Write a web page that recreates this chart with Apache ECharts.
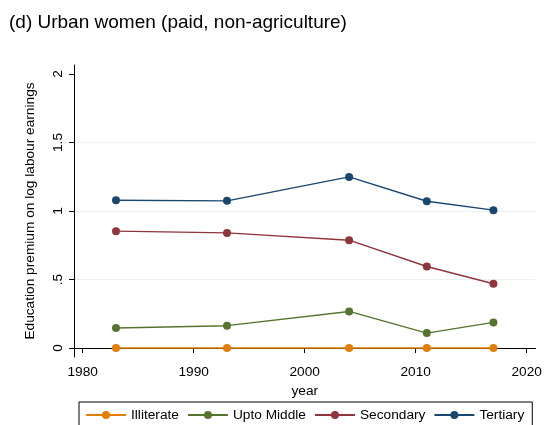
<!DOCTYPE html>
<html>
<head>
<meta charset="utf-8">
<script src="https://cdn.jsdelivr.net/npm/echarts@6/dist/echarts.min.js"></script>
<style>
  html, body { margin: 0; padding: 0; background: #fff; }
  #chart { width: 545px; height: 425px; }
</style>
</head>
<body>
<div id="chart"></div>
<script>
// Survey years
const years = [1983, 1993, 2004, 2011, 2017];

// Education premium on log labour earnings, by education level
const illiterate  = [0, 0, 0, 0, 0];
const uptoMiddle  = [0.146, 0.163, 0.267, 0.109, 0.187];
const secondary   = [0.853, 0.840, 0.787, 0.595, 0.469];
const tertiary    = [1.079, 1.074, 1.249, 1.071, 1.006];

// Axis tick labels
const xTicks = [1980, 1990, 2000, 2010, 2020];
const yTicks = [0, 0.5, 1, 1.5, 2];
const yGrid  = [0, 0.5, 1, 1.5];

const seriesDefs = [
  { name: 'Illiterate',   values: illiterate, color: '#e37e00' },
  { name: 'Upto Middle',  values: uptoMiddle, color: '#55752f' },
  { name: 'Secondary',    values: secondary,  color: '#90353b' },
  { name: 'Tertiary',     values: tertiary,   color: '#1a476f' }
];

const FONT = 'Liberation Sans, Arial, Helvetica, sans-serif';
const FS = 13.7;

function fmtY(v) {
  if (v === 0) return '0';
  let s = String(v);
  if (s.startsWith('0.')) s = s.slice(1);
  return s;
}

const chart = echarts.init(document.getElementById('chart'), null, { renderer: 'canvas' });

chart.setOption({
  animation: false,
  backgroundColor: '#ffffff',
  textStyle: { fontFamily: FONT, color: '#000' },
  title: {
    text: '(d) Urban women (paid, non-agriculture)',
    left: 4,
    top: 8,
    textStyle: { fontFamily: FONT, fontSize: 19, fontWeight: 'normal', color: '#000' }
  },
  legend: {
    data: seriesDefs.map(s => s.name),
    left: 79,
    top: 402,
    orient: 'horizontal',
    itemWidth: 40,
    itemHeight: 10,
    itemGap: 8,
    padding: [6, 8, 6, 6],
    borderColor: '#000',
    borderWidth: 1,
    textStyle: { fontFamily: FONT, fontSize: FS, color: '#000' }
  },
  grid: {
    left: 74,
    right: 9.5,
    top: 65,
    bottom: 68,
    containLabel: false
  },
  xAxis: {
    type: 'value',
    min: 1979.216,
    max: 2020.79,
    name: 'year',
    nameLocation: 'middle',
    nameGap: 20,
    nameTextStyle: { fontFamily: FONT, fontSize: FS, color: '#000', verticalAlign: 'top' },
    axisLine: { show: true, lineStyle: { color: '#000', width: 1 } },
    axisTick: { show: true, length: 5, customValues: xTicks, lineStyle: { color: '#000' } },
    axisLabel: {
      customValues: xTicks,
      margin: 8,
      fontFamily: FONT,
      fontSize: FS,
      color: '#000',
      formatter: v => String(v)
    },
    splitLine: { show: false }
  },
  yAxis: [
    {
      type: 'value',
      min: -0.0656,
      max: 2.0656,
      name: 'Education premium on log labour earnings',
      nameLocation: 'middle',
      nameRotate: 90,
      nameGap: 37,
      nameTextStyle: { fontFamily: FONT, fontSize: FS, color: '#000' },
      axisLine: { show: true, lineStyle: { color: '#000', width: 1 } },
      axisTick: { show: true, length: 5, customValues: yTicks, lineStyle: { color: '#000' } },
      axisLabel: {
        customValues: yTicks,
        rotate: 90,
        margin: 9,
        fontFamily: FONT,
        fontSize: FS,
        color: '#000',
        formatter: fmtY
      },
      splitLine: { show: false }
    },
    {
      // Horizontal reference lines
      type: 'value',
      min: -0.0656,
      max: 2.0656,
      position: 'left',
      axisLine: { show: false },
      axisLabel: { show: false },
      axisTick: { show: false, customValues: yGrid },
      splitLine: { show: true, lineStyle: { color: '#eaf2f3', width: 1 } }
    }
  ],
  series: seriesDefs.map(s => ({
    name: s.name,
    type: 'line',
    yAxisIndex: 0,
    data: years.map((y, i) => [y, s.values[i]]),
    symbol: 'circle',
    symbolSize: 8,
    showSymbol: true,
    color: s.color,
    lineStyle: { color: s.color, width: 1.4 },
    itemStyle: { color: s.color },
    emphasis: { disabled: true },
    z: 3
  }))
});
</script>
</body>
</html>
